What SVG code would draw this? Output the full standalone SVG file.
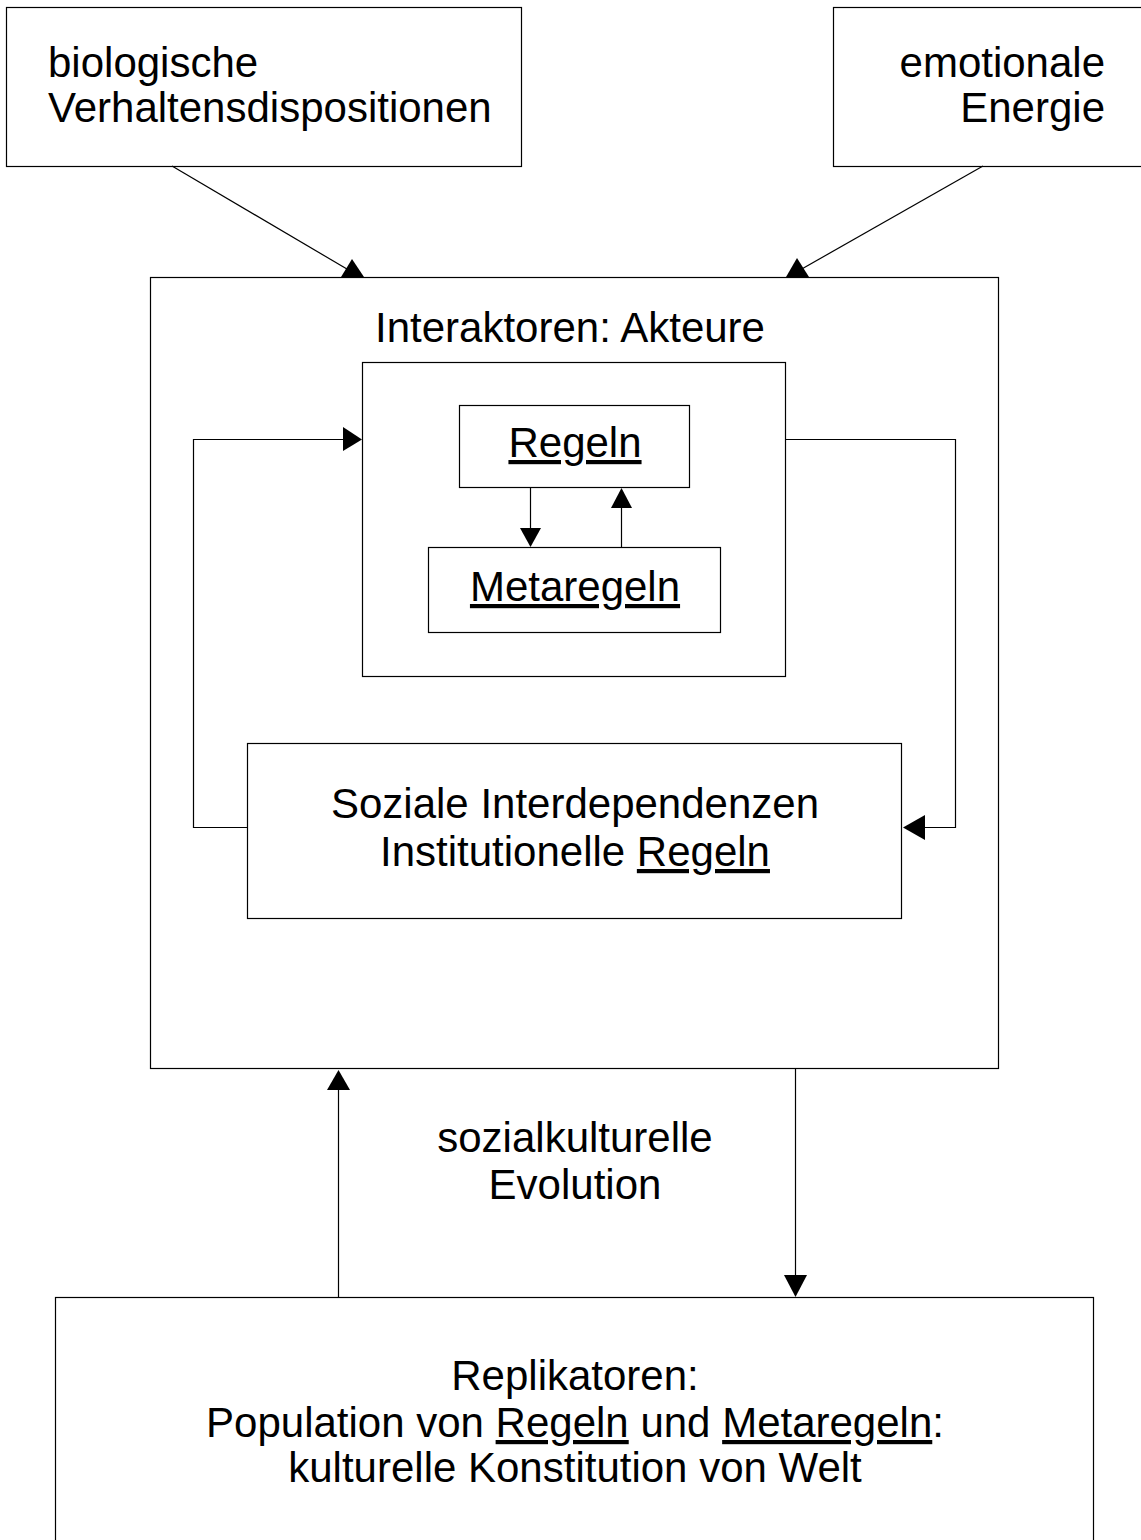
<svg xmlns="http://www.w3.org/2000/svg" width="1141" height="1540" viewBox="0 0 1141 1540">
<style>
.box{fill:#fff;stroke:#000;stroke-width:1.2}
.ln{fill:none;stroke:#000;stroke-width:1.2}
.ah{fill:#000;stroke:none}
text{font-family:"Liberation Sans",Arial,sans-serif;font-size:42px;fill:#000}
.c{text-anchor:middle}
.r{text-anchor:end}
.u{text-decoration:underline}
</style>
<rect width="1141" height="1540" fill="#fff"/>
<g id="bio">
<rect class="box" x="6.5" y="7.5" width="515" height="159"/>
<text x="48" y="77">biologische</text>
<text x="48" y="122">Verhaltensdispositionen</text>
</g>
<g id="emo">
<rect class="box" x="833.5" y="7.5" width="320" height="159"/>
<text class="r" x="1105" y="77">emotionale</text>
<text class="r" x="1105" y="122">Energie</text>
</g>
<g id="interaktoren">
<rect class="box" x="150.5" y="277.5" width="848" height="791"/>
<text class="c" x="570" y="342">Interaktoren: Akteure</text>
</g>
<g id="inner">
<rect class="box" x="362.5" y="362.5" width="423" height="314"/>
</g>
<g id="regeln">
<rect class="box" x="459.5" y="405.5" width="230" height="82"/>
<text class="c u" x="575" y="457">Regeln</text>
</g>
<g id="metaregeln">
<rect class="box" x="428.5" y="547.5" width="292" height="85"/>
<text class="c u" x="575" y="601">Metaregeln</text>
</g>
<g id="soziale">
<rect class="box" x="247.5" y="743.5" width="654" height="175"/>
<text class="c" x="575" y="818">Soziale Interdependenzen</text>
<text class="c" x="575" y="866">Institutionelle <tspan class="u">Regeln</tspan></text>
</g>
<g id="replikatoren">
<rect class="box" x="55.5" y="1297.5" width="1038" height="260"/>
<text class="c" x="575" y="1390">Replikatoren:</text>
<text class="c" x="575" y="1437">Population von <tspan class="u">Regeln</tspan> und <tspan class="u">Metaregeln</tspan>:</text>
<text class="c" x="575" y="1482">kulturelle Konstitution von Welt</text>
</g>
<g id="label">
<text class="c" x="575" y="1152">sozialkulturelle</text>
<text class="c" x="575" y="1199">Evolution</text>
</g>
<g id="connectors">
<line class="ln" x1="172" y1="166" x2="352" y2="272"/>
<polygon class="ah" points="352,259 341,277 364,277"/>
<line class="ln" x1="983" y1="166" x2="800" y2="270"/>
<polygon class="ah" points="797,258 786,277 809,277"/>
<line class="ln" x1="530.5" y1="487" x2="530.5" y2="530"/>
<polygon class="ah" points="520,528 541,528 530.5,547"/>
<line class="ln" x1="621.5" y1="547" x2="621.5" y2="505"/>
<polygon class="ah" points="611,508 632,508 621.5,488"/>
<polyline class="ln" points="247,827.5 193.5,827.5 193.5,439.5 346,439.5"/>
<polygon class="ah" points="343,427 343,451 362,439.5"/>
<polyline class="ln" points="785,439.5 955.5,439.5 955.5,827.5 920,827.5"/>
<polygon class="ah" points="925,815 925,840 903,827.5"/>
<line class="ln" x1="338.5" y1="1297" x2="338.5" y2="1088"/>
<polygon class="ah" points="327,1090 350,1090 338.5,1070"/>
<line class="ln" x1="795.5" y1="1068" x2="795.5" y2="1280"/>
<polygon class="ah" points="784,1275 807,1275 795.5,1297"/>
</g>
</svg>
